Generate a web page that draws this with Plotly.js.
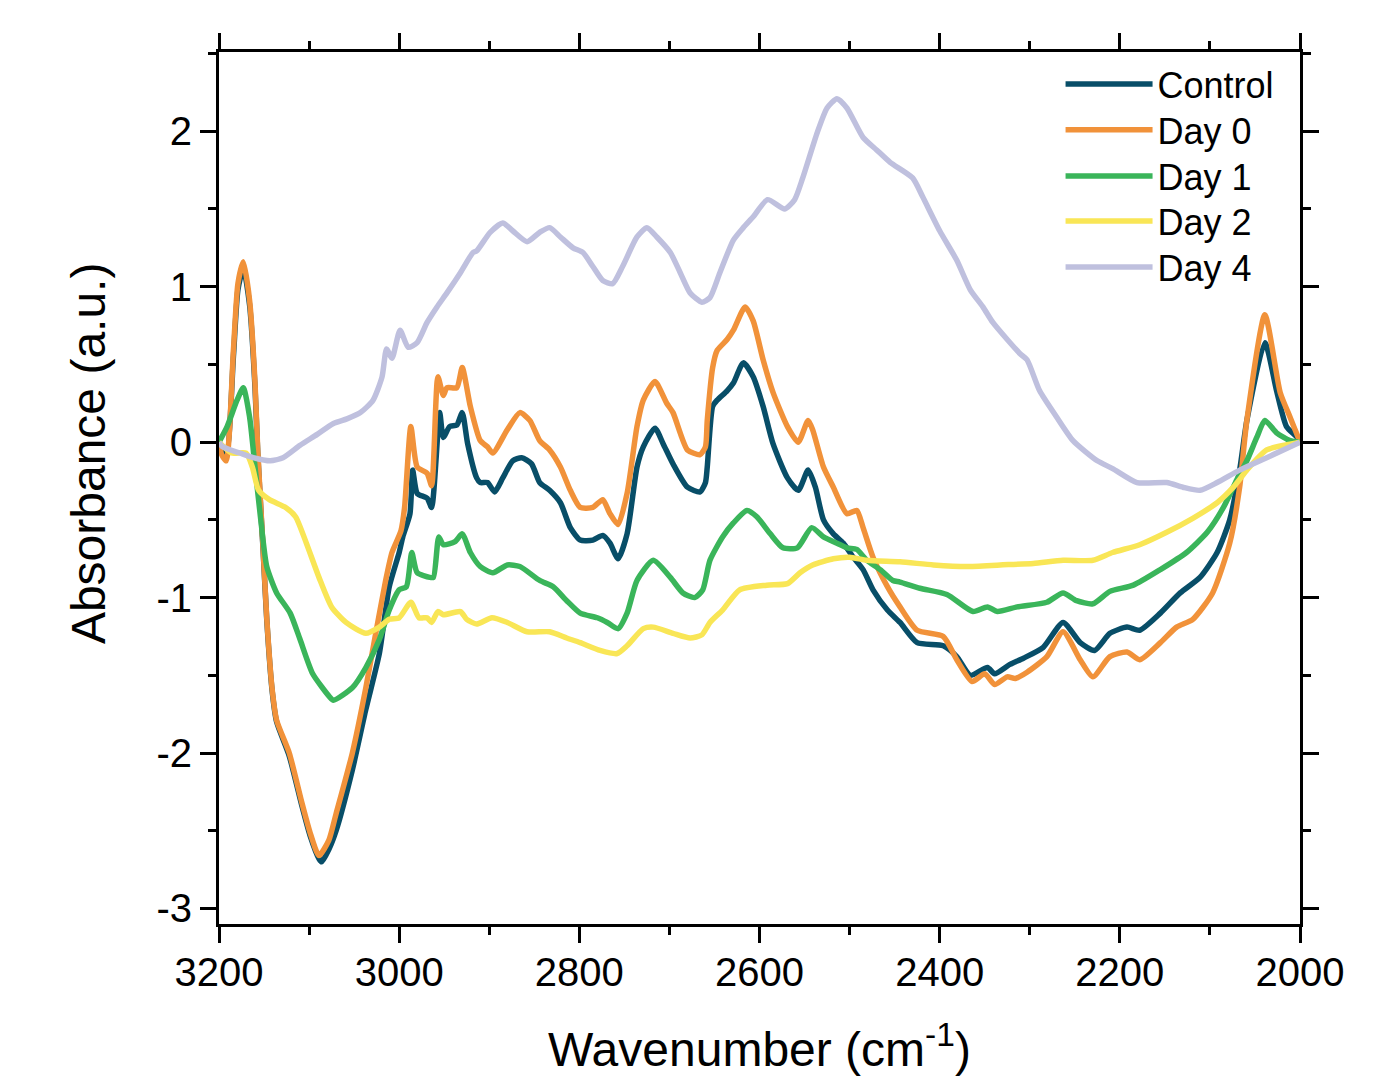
<!DOCTYPE html>
<html>
<head>
<meta charset="utf-8">
<script src="https://cdn.plot.ly/plotly-3.0.1.min.js"></script>
<style>html,body{margin:0;padding:0;background:#fff;}#chart{width:1399px;height:1088px;}</style>
</head>
<body>
<div id="chart"></div>
<script>
// Wavenumber (cm-1) and absorbance (a.u.)
const wnControl = [3200,3197,3192,3184,3179,3173,3166,3160,3157,3151,3147,3141,3136,3122,3108,3099,3089,3086,3078,3070,3052,3037,3022,3011,3000,2996,2988,2985,2980,2969,2964,2955,2951,2944,2936,2930,2924,2914,2910,2902,2894,2885,2874,2864,2853,2844,2833,2821,2810,2799,2785,2774,2766,2757,2747,2736,2729,2716,2707,2696,2680,2666,2660,2658,2652,2647,2636,2629,2618,2607,2596,2585,2569,2557,2546,2538,2529,2518,2507,2496,2485,2474,2458,2444,2425,2396,2381,2366,2347,2339,2322,2307,2285,2263,2244,2228,2211,2192,2178,2155,2133,2111,2092,2078,2067,2059,2039,2026,2015,2003,2000];
const absControl = [0,-0.06,-0.08,0.55,0.98,1.12,0.88,0.35,-0.07,-0.70,-1.14,-1.60,-1.80,-2.02,-2.34,-2.53,-2.68,-2.70,-2.62,-2.50,-2.11,-1.72,-1.36,-0.93,-0.71,-0.61,-0.46,-0.18,-0.33,-0.36,-0.42,0.19,0.03,0.10,0.11,0.19,-0.01,-0.23,-0.26,-0.26,-0.32,-0.23,-0.12,-0.10,-0.14,-0.26,-0.31,-0.39,-0.55,-0.63,-0.63,-0.60,-0.65,-0.75,-0.59,-0.16,-0.03,0.09,-0.01,-0.14,-0.29,-0.32,-0.26,-0.16,0.23,0.27,0.33,0.38,0.51,0.42,0.23,-0.01,-0.23,-0.31,-0.18,-0.29,-0.50,-0.59,-0.65,-0.74,-0.82,-0.95,-1.08,-1.16,-1.29,-1.31,-1.38,-1.50,-1.45,-1.49,-1.43,-1.39,-1.32,-1.16,-1.29,-1.34,-1.23,-1.19,-1.21,-1.10,-0.97,-0.87,-0.71,-0.50,-0.18,0.14,0.64,0.33,0.10,0.03,0];

const wnDay0 = [3200,3197,3192,3184,3179,3173,3166,3160,3157,3151,3147,3141,3136,3122,3108,3099,3089,3078,3070,3052,3037,3026,3015,3008,2998,2994,2987,2980,2969,2964,2957,2951,2947,2936,2930,2921,2910,2902,2896,2880,2866,2855,2844,2833,2821,2810,2799,2785,2774,2766,2757,2747,2736,2729,2716,2703,2696,2680,2666,2660,2658,2652,2647,2636,2629,2616,2607,2596,2585,2569,2557,2546,2541,2529,2518,2503,2492,2485,2474,2458,2444,2425,2396,2381,2364,2350,2339,2325,2316,2303,2281,2263,2244,2230,2211,2192,2178,2155,2137,2119,2097,2078,2067,2059,2039,2022,2011,2002,2000];
const absDay0 = [0,-0.08,-0.12,0.59,1.02,1.16,0.91,0.38,-0.05,-0.69,-1.13,-1.59,-1.79,-2.00,-2.32,-2.51,-2.66,-2.56,-2.39,-2.00,-1.58,-1.23,-0.89,-0.71,-0.57,-0.42,0.10,-0.16,-0.20,-0.28,0.42,0.30,0.35,0.35,0.48,0.23,0.01,-0.03,-0.07,0.08,0.19,0.14,0.01,-0.05,-0.16,-0.31,-0.42,-0.42,-0.37,-0.46,-0.53,-0.33,0.10,0.27,0.39,0.25,0.19,-0.05,-0.08,-0.03,0.14,0.48,0.59,0.66,0.72,0.87,0.78,0.53,0.32,0.10,0,0.14,0.08,-0.16,-0.29,-0.46,-0.44,-0.55,-0.74,-0.93,-1.06,-1.21,-1.25,-1.40,-1.54,-1.49,-1.56,-1.51,-1.52,-1.48,-1.38,-1.22,-1.40,-1.51,-1.38,-1.35,-1.40,-1.29,-1.19,-1.14,-0.97,-0.65,-0.29,0.14,0.82,0.32,0.16,0.03,0];

const wnDay1 = [3200,3191,3180,3173,3166,3160,3154,3147,3136,3121,3110,3096,3077,3073,3052,3037,3022,3011,3000,2992,2986,2980,2966,2962,2956,2951,2938,2930,2921,2910,2896,2880,2866,2844,2829,2814,2799,2780,2769,2757,2747,2736,2718,2699,2685,2672,2663,2655,2641,2629,2614,2603,2588,2574,2558,2542,2529,2514,2503,2492,2481,2466,2452,2444,2422,2392,2363,2347,2336,2314,2281,2263,2248,2230,2211,2185,2155,2126,2103,2085,2070,2059,2048,2039,2026,2011,2000];
const absDay1 = [0,0.10,0.27,0.35,0.16,-0.16,-0.48,-0.80,-0.97,-1.10,-1.27,-1.49,-1.64,-1.66,-1.58,-1.45,-1.27,-1.08,-0.95,-0.93,-0.71,-0.84,-0.87,-0.87,-0.61,-0.66,-0.64,-0.59,-0.71,-0.80,-0.84,-0.79,-0.80,-0.89,-0.93,-1.02,-1.10,-1.13,-1.16,-1.20,-1.10,-0.89,-0.76,-0.87,-0.97,-1.00,-0.95,-0.76,-0.61,-0.52,-0.44,-0.48,-0.59,-0.68,-0.68,-0.55,-0.61,-0.65,-0.68,-0.69,-0.76,-0.82,-0.89,-0.90,-0.94,-0.98,-1.09,-1.06,-1.09,-1.06,-1.03,-0.97,-1.02,-1.04,-0.96,-0.92,-0.82,-0.71,-0.58,-0.42,-0.24,-0.12,0.03,0.14,0.06,0.01,0];

const wnDay2 = [3200,3186,3170,3163,3156,3144,3126,3115,3103,3089,3075,3059,3037,3022,3011,3000,2987,2978,2969,2964,2957,2951,2932,2925,2914,2897,2880,2858,2833,2814,2799,2777,2758,2747,2729,2718,2696,2677,2664,2655,2641,2622,2592,2569,2555,2541,2518,2500,2481,2444,2407,2370,2333,2296,2263,2230,2208,2178,2148,2119,2092,2074,2059,2037,2008,2000];
const absDay2 = [0,-0.07,-0.07,-0.16,-0.31,-0.37,-0.42,-0.48,-0.65,-0.87,-1.06,-1.16,-1.23,-1.19,-1.14,-1.13,-1.03,-1.13,-1.13,-1.16,-1.09,-1.11,-1.09,-1.14,-1.17,-1.13,-1.16,-1.22,-1.22,-1.26,-1.29,-1.34,-1.36,-1.31,-1.20,-1.19,-1.23,-1.26,-1.24,-1.16,-1.08,-0.95,-0.92,-0.91,-0.84,-0.79,-0.75,-0.74,-0.76,-0.77,-0.79,-0.80,-0.79,-0.78,-0.76,-0.76,-0.71,-0.66,-0.58,-0.49,-0.39,-0.29,-0.18,-0.05,-0.01,0];

const wnDay4 = [3200,3196,3177,3162,3143,3129,3110,3091,3073,3058,3043,3029,3019,3014,3008,2999,2990,2980,2969,2958,2947,2932,2918,2914,2899,2885,2874,2858,2844,2833,2821,2807,2796,2785,2774,2763,2752,2736,2725,2714,2699,2688,2677,2664,2655,2644,2629,2618,2607,2591,2572,2561,2552,2536,2525,2514,2503,2485,2470,2455,2430,2419,2400,2381,2366,2352,2341,2325,2311,2303,2289,2270,2252,2225,2208,2181,2148,2130,2111,2092,2067,2037,2000];
const absDay4 = [0,-0.03,-0.07,-0.10,-0.12,-0.10,-0.02,0.05,0.12,0.15,0.19,0.27,0.42,0.60,0.54,0.72,0.61,0.64,0.77,0.87,0.96,1.09,1.22,1.23,1.35,1.41,1.36,1.29,1.35,1.38,1.32,1.25,1.22,1.13,1.04,1.02,1.13,1.32,1.38,1.32,1.22,1.09,0.96,0.90,0.93,1.09,1.30,1.38,1.45,1.56,1.50,1.56,1.70,1.99,2.15,2.21,2.15,1.96,1.88,1.80,1.70,1.58,1.36,1.17,0.98,0.87,0.77,0.66,0.57,0.53,0.33,0.16,0.01,-0.12,-0.17,-0.26,-0.26,-0.29,-0.31,-0.26,-0.18,-0.10,0];

const seriesNames = ["Control","Day 0","Day 1","Day 2","Day 4"];
const seriesColors = ["#084e68","#f1923a","#3ab55a","#f9e656","#bfc0de"];
const xTickVals = [3200,3000,2800,2600,2400,2200,2000];
const xTickText = ["3200","3000","2800","2600","2400","2200","2000"];
const yTickVals = [-3,-2,-1,0,1,2];
const yTickText = ["-3","-2","-1","0","1","2"];

const xs = [wnControl,wnDay0,wnDay1,wnDay2,wnDay4];
const ys = [absControl,absDay0,absDay1,absDay2,absDay4];
const legendIds = ['legend','legend2','legend3','legend4','legend5'];
const legendY = [0.9633,0.9106,0.8578,0.8062,0.7534];

const traces = seriesNames.map((n,i)=>({
  type:'scatter', mode:'lines', name:n, x:xs[i], y:ys[i], legend:legendIds[i],
  line:{color:seriesColors[i], width:5.5, shape:'spline', smoothing:0.6}
}));

const FONT = "'Liberation Sans', Arial, Helvetica, sans-serif";
const axisCommon = {
  showline:true, linecolor:'#000', linewidth:3, mirror:'allticks',
  ticks:'outside', ticklen:16, tickwidth:3, tickcolor:'#000',
  showgrid:false, zeroline:false,
  tickfont:{family:FONT, size:40, color:'#000'}
};

const layout = {
  width:1399, height:1088,
  margin:{l:219, r:99, t:52, b:164, pad:0},
  paper_bgcolor:'#fff', plot_bgcolor:'#fff',
  font:{family:FONT, color:'#000'},
  showlegend:true,
  xaxis:Object.assign({}, axisCommon, {
    range:[3200,2000], tickmode:'array', tickvals:xTickVals, ticktext:xTickText,
    ticklabelstandoff:-5,
    minor:{tickmode:'linear', tick0:2000, dtick:100, ticks:'outside', ticklen:8, tickwidth:3, tickcolor:'#000', showgrid:false},
    title:{text:'Wavenumber (cm<sup>-1</sup>)', font:{family:FONT, size:48, color:'#000'}, standoff:40}
  }),
  yaxis:Object.assign({}, axisCommon, {
    range:[-3.1,2.51], tickmode:'array', tickvals:yTickVals, ticktext:yTickText,
    minor:{tickmode:'linear', tick0:0, dtick:0.5, ticks:'outside', ticklen:8, tickwidth:3, tickcolor:'#000', showgrid:false}
  }),
  annotations:[{
    text:'Absorbance (a.u.)', xref:'paper', yref:'paper', x:-0.1212, y:0.540,
    xanchor:'center', yanchor:'middle', textangle:-90, showarrow:false,
    font:{family:FONT, size:48, color:'#000'}
  }]
};

legendIds.forEach((id,i)=>{
  layout[id] = {x:0.7785, y:legendY[i], xanchor:'left', yanchor:'middle', bgcolor:'rgba(0,0,0,0)',
    font:{family:FONT, size:36, color:'#000'}, itemwidth:87};
});

Plotly.newPlot('chart', traces, layout, {displayModeBar:false, staticPlot:true});
</script>
</body>
</html>
